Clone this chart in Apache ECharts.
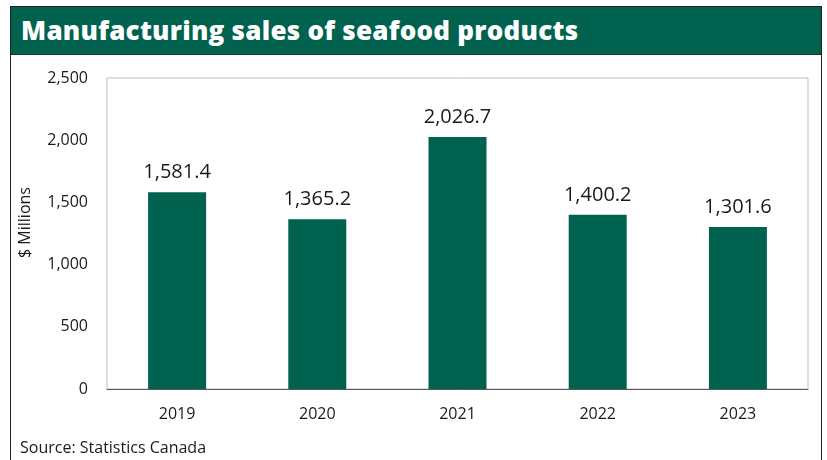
<!DOCTYPE html>
<html>
<head>
<meta charset="utf-8">
<script src="https://cdn.jsdelivr.net/npm/echarts@6/dist/echarts.min.js"></script>
<style>
  html, body { margin: 0; padding: 0; background: #fff; }
  #frame {
    position: absolute; left: 10px; top: 6px; width: 812px; height: 470px;
    border: 1px solid #222; border-bottom: none; box-sizing: border-box;
  }
  #title {
    position: absolute; left: 0; top: 0; right: 0; height: 47px;
    background: #00624f; border-bottom: 1px solid #1d3a33;
    color: #fff; font-family: "Open Sans", sans-serif; font-weight: 800;
    font-size: 26px; line-height: 46px; padding-left: 10px; letter-spacing: 0.25px;
  }
  #chart { position: absolute; left: 0; top: 0; width: 827px; height: 460px; }
</style>
</head>
<body>
<div id="frame"><div id="title">Manufacturing sales of seafood products</div></div>
<div id="chart"></div>
<script>
const years = ['2019', '2020', '2021', '2022', '2023'];
const sales = [1581.4, 1365.2, 2026.7, 1400.2, 1301.6];
const yTicks = { min: 0, max: 2500, interval: 500 };

const fmt = v => v.toLocaleString('en-US', { minimumFractionDigits: 1, maximumFractionDigits: 1 });

const chart = echarts.init(document.getElementById('chart'), null, { renderer: 'canvas' });
chart.setOption({
  animation: false,
  textStyle: { fontFamily: '"Open Sans", sans-serif' },
  grid: { left: 107, right: 19, top: 78, bottom: 71, show: true, borderColor: '#bfbfbf', borderWidth: 1 },
  xAxis: {
    type: 'category',
    data: years,
    axisLine: { lineStyle: { color: '#595959', width: 1 } },
    axisTick: { show: false },
    axisLabel: { color: '#1a1a1a', fontSize: 16, margin: 17 }
  },
  yAxis: {
    type: 'value',
    min: yTicks.min, max: yTicks.max, interval: yTicks.interval,
    name: '$ Millions',
    nameLocation: 'middle',
    nameGap: 74,
    nameTextStyle: { color: '#1a1a1a', fontSize: 16, padding: [0, 0, 0, 22] },
    splitLine: { show: false },
    axisLine: { show: false },
    axisTick: { show: false },
    axisLabel: {
      color: '#1a1a1a', fontSize: 16, margin: 19,
      formatter: v => v.toLocaleString('en-US')
    }
  },
  series: [{
    type: 'bar',
    data: sales,
    barWidth: 58,
    itemStyle: { color: '#00624f' },
    label: {
      show: true, position: 'top', distance: 10,
      color: '#1a1a1a', fontSize: 20,
      formatter: p => fmt(p.value)
    }
  }],
  graphic: [{
    type: 'text', left: 20, top: 440,
    style: { text: 'Source: Statistics Canada', fill: '#1a1a1a', fontSize: 16, fontFamily: '"Open Sans", sans-serif' }
  }]
});
</script>
</body>
</html>
